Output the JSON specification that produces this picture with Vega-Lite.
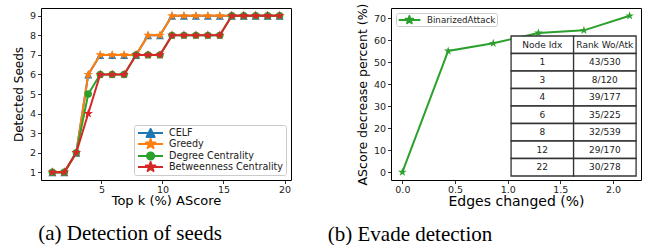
{
  "$schema": "https://vega.github.io/schema/vega-lite/v6.json",
  "background": "white",
  "padding": {"left": 11, "top": 2, "right": 0, "bottom": 0},
  "bounds": "flush",
  "spacing": 100,
  "config": {
    "font": "DejaVu Sans",
    "view": {"stroke": "black", "strokeWidth": 1},
    "axis": {"grid": false, "domain": false, "tickColor": "black", "tickSize": 3.5, "tickWidth": 0.8, "labelFont": "DejaVu Sans", "labelFontSize": 9.5, "labelColor": "#222", "labelPadding": 2, "titleFont": "DejaVu Sans", "titleFontWeight": "normal", "titleColor": "black", "labelFlush": false, "labelOverlap": false},
    "axisX": {"labelPadding": 0.5}
  },
  "resolve": {"scale": {"color": "independent"}, "legend": {"color": "independent"}},
  "hconcat": [
    {
      "width": 250,
      "height": 172,
      "title": {"text": "(a) Detection of seeds", "orient": "bottom", "font": "Liberation Serif", "fontSize": 21, "fontWeight": "normal", "color": "black", "offset": 15, "dx": -36, "anchor": "middle"},
      "data": {"values": [
        {"m": "CELF", "k": 0.98, "s": 1}, {"m": "CELF", "k": 1.96, "s": 1}, {"m": "CELF", "k": 2.94, "s": 2}, {"m": "CELF", "k": 3.92, "s": 6}, {"m": "CELF", "k": 4.9, "s": 7},
        {"m": "CELF", "k": 5.88, "s": 7}, {"m": "CELF", "k": 6.86, "s": 7}, {"m": "CELF", "k": 7.84, "s": 7}, {"m": "CELF", "k": 8.82, "s": 8}, {"m": "CELF", "k": 9.8, "s": 8},
        {"m": "CELF", "k": 10.78, "s": 9}, {"m": "CELF", "k": 11.76, "s": 9}, {"m": "CELF", "k": 12.74, "s": 9}, {"m": "CELF", "k": 13.72, "s": 9}, {"m": "CELF", "k": 14.7, "s": 9},
        {"m": "CELF", "k": 15.68, "s": 9}, {"m": "CELF", "k": 16.66, "s": 9}, {"m": "CELF", "k": 17.64, "s": 9}, {"m": "CELF", "k": 18.62, "s": 9}, {"m": "CELF", "k": 19.6, "s": 9},
        {"m": "Greedy", "k": 0.98, "s": 1}, {"m": "Greedy", "k": 1.96, "s": 1}, {"m": "Greedy", "k": 2.94, "s": 2}, {"m": "Greedy", "k": 3.92, "s": 6}, {"m": "Greedy", "k": 4.9, "s": 7},
        {"m": "Greedy", "k": 5.88, "s": 7}, {"m": "Greedy", "k": 6.86, "s": 7}, {"m": "Greedy", "k": 7.84, "s": 7}, {"m": "Greedy", "k": 8.82, "s": 8}, {"m": "Greedy", "k": 9.8, "s": 8},
        {"m": "Greedy", "k": 10.78, "s": 9}, {"m": "Greedy", "k": 11.76, "s": 9}, {"m": "Greedy", "k": 12.74, "s": 9}, {"m": "Greedy", "k": 13.72, "s": 9}, {"m": "Greedy", "k": 14.7, "s": 9},
        {"m": "Greedy", "k": 15.68, "s": 9}, {"m": "Greedy", "k": 16.66, "s": 9}, {"m": "Greedy", "k": 17.64, "s": 9}, {"m": "Greedy", "k": 18.62, "s": 9}, {"m": "Greedy", "k": 19.6, "s": 9},
        {"m": "Degree Centrality", "k": 0.98, "s": 1}, {"m": "Degree Centrality", "k": 1.96, "s": 1}, {"m": "Degree Centrality", "k": 2.94, "s": 2}, {"m": "Degree Centrality", "k": 3.92, "s": 5}, {"m": "Degree Centrality", "k": 4.9, "s": 6},
        {"m": "Degree Centrality", "k": 5.88, "s": 6}, {"m": "Degree Centrality", "k": 6.86, "s": 6}, {"m": "Degree Centrality", "k": 7.84, "s": 7}, {"m": "Degree Centrality", "k": 8.82, "s": 7}, {"m": "Degree Centrality", "k": 9.8, "s": 7},
        {"m": "Degree Centrality", "k": 10.78, "s": 8}, {"m": "Degree Centrality", "k": 11.76, "s": 8}, {"m": "Degree Centrality", "k": 12.74, "s": 8}, {"m": "Degree Centrality", "k": 13.72, "s": 8}, {"m": "Degree Centrality", "k": 14.7, "s": 8},
        {"m": "Degree Centrality", "k": 15.68, "s": 9}, {"m": "Degree Centrality", "k": 16.66, "s": 9}, {"m": "Degree Centrality", "k": 17.64, "s": 9}, {"m": "Degree Centrality", "k": 18.62, "s": 9}, {"m": "Degree Centrality", "k": 19.6, "s": 9},
        {"m": "Betweenness Centrality", "k": 0.98, "s": 1}, {"m": "Betweenness Centrality", "k": 1.96, "s": 1}, {"m": "Betweenness Centrality", "k": 2.94, "s": 2}, {"m": "Betweenness Centrality", "k": 3.92, "s": 4}, {"m": "Betweenness Centrality", "k": 4.9, "s": 6},
        {"m": "Betweenness Centrality", "k": 5.88, "s": 6}, {"m": "Betweenness Centrality", "k": 6.86, "s": 6}, {"m": "Betweenness Centrality", "k": 7.84, "s": 7}, {"m": "Betweenness Centrality", "k": 8.82, "s": 7}, {"m": "Betweenness Centrality", "k": 9.8, "s": 7},
        {"m": "Betweenness Centrality", "k": 10.78, "s": 8}, {"m": "Betweenness Centrality", "k": 11.76, "s": 8}, {"m": "Betweenness Centrality", "k": 12.74, "s": 8}, {"m": "Betweenness Centrality", "k": 13.72, "s": 8}, {"m": "Betweenness Centrality", "k": 14.7, "s": 8},
        {"m": "Betweenness Centrality", "k": 15.68, "s": 9}, {"m": "Betweenness Centrality", "k": 16.66, "s": 9}, {"m": "Betweenness Centrality", "k": 17.64, "s": 9}, {"m": "Betweenness Centrality", "k": 18.62, "s": 9}, {"m": "Betweenness Centrality", "k": 19.6, "s": 9}
      ]},
      "encoding": {
        "x": {"field": "k", "type": "quantitative", "scale": {"domain": [0.049, 20.531], "nice": false, "zero": false}, "axis": {"values": [5, 10, 15, 20], "title": "Top k (%) AScore", "titleFontSize": 13, "titlePadding": 1}},
        "y": {"field": "s", "type": "quantitative", "scale": {"domain": [0.6, 9.4], "nice": false, "zero": false}, "axis": {"values": [1, 2, 3, 4, 5, 6, 7, 8, 9], "title": "Detected Seeds", "titleFontSize": 12, "titlePadding": 4}},
        "color": {
          "field": "m", "type": "nominal",
          "scale": {"domain": ["CELF", "Greedy", "Degree Centrality", "Betweenness Centrality"], "range": ["#1f77b4", "#ff7f0e", "#2ca02c", "#d62728"]},
          "legend": {
            "title": null, "orient": "bottom-right", "offset": 5, "padding": 2,
            "strokeColor": "#cccccc", "fillColor": "rgba(255,255,255,0.8)", "cornerRadius": 2,
            "symbolSize": 100, "symbolStrokeWidth": 2, "rowPadding": -0.3, "labelOffset": 21,
            "labelFontSize": 9.6, "labelFont": "DejaVu Sans", "labelColor": "#222", "labelLimit": 300,
            "encode": {"symbols": {"update": {
              "shape": {"signal": "datum.value === 'CELF' ? 'M-0.8,0L4.2,0M1.72,-0.8L2.52,0.8L0.92,0.8Z' : datum.value === 'Degree Centrality' ? 'M-0.8,0L4.2,0M1,0A0.72,0.72 0 1,0 2.44,0A0.72,0.72 0 1,0 1,0Z' : 'M-0.8,0L4.2,0M1.72,-1L1.945,-0.309L2.671,-0.309L2.083,0.118L2.308,0.809L1.72,0.382L1.132,0.809L1.357,0.118L0.769,-0.309L1.496,-0.309Z'"},
              "fill": {"signal": "datum.value === 'CELF' ? '#1f77b4' : datum.value === 'Greedy' ? '#ff7f0e' : datum.value === 'Degree Centrality' ? '#2ca02c' : '#d62728'"},
              "stroke": {"signal": "datum.value === 'CELF' ? '#1f77b4' : datum.value === 'Greedy' ? '#ff7f0e' : datum.value === 'Degree Centrality' ? '#2ca02c' : '#d62728'"},
              "strokeWidth": {"value": 2},
              "strokeJoin": {"value": "round"},
              "opacity": {"value": 1}
            }}}
          }
        }
      },
      "layer": [
        {"transform": [{"filter": "datum.m === 'CELF'"}], "mark": {"type": "line", "strokeWidth": 2}},
        {"transform": [{"filter": "datum.m === 'CELF'"}], "mark": {"type": "point", "filled": true, "opacity": 1, "shape": "M0,-1L1,1L-1,1Z", "size": 64}},
        {"transform": [{"filter": "datum.m === 'Greedy'"}], "mark": {"type": "line", "strokeWidth": 2}},
        {"transform": [{"filter": "datum.m === 'Greedy'"}], "mark": {"type": "point", "filled": true, "opacity": 1, "shape": "M0,-1L0.2245,-0.309L0.9511,-0.309L0.3633,0.118L0.5878,0.809L0,0.382L-0.5878,0.809L-0.3633,0.118L-0.9511,-0.309L-0.2245,-0.309Z", "size": 100}},
        {"transform": [{"filter": "datum.m === 'Degree Centrality'"}], "mark": {"type": "line", "strokeWidth": 2}},
        {"transform": [{"filter": "datum.m === 'Degree Centrality'"}], "mark": {"type": "point", "filled": true, "opacity": 1, "shape": "circle", "size": 55}},
        {"transform": [{"filter": "datum.m === 'Betweenness Centrality'"}], "mark": {"type": "line", "strokeWidth": 2}},
        {"transform": [{"filter": "datum.m === 'Betweenness Centrality'"}], "mark": {"type": "point", "filled": true, "opacity": 1, "shape": "M0,-1L0.2245,-0.309L0.9511,-0.309L0.3633,0.118L0.5878,0.809L0,0.382L-0.5878,0.809L-0.3633,0.118L-0.9511,-0.309L-0.2245,-0.309Z", "size": 100}}
      ]
    },
    {
      "width": 250,
      "height": 172,
      "title": {"text": "(b) Evade detection", "orient": "bottom", "font": "Liberation Serif", "fontSize": 21, "fontWeight": "normal", "color": "black", "offset": 15, "dx": -106, "anchor": "middle"},
      "resolve": {"scale": {"x": "independent", "y": "independent"}},
      "layer": [
        {
          "data": {"values": [
            {"series": "BinarizedAttack", "e": 0, "d": 0},
            {"series": "BinarizedAttack", "e": 0.435, "d": 55.1},
            {"series": "BinarizedAttack", "e": 0.863, "d": 58.6},
            {"series": "BinarizedAttack", "e": 1.292, "d": 63.3},
            {"series": "BinarizedAttack", "e": 1.724, "d": 64.5},
            {"series": "BinarizedAttack", "e": 2.158, "d": 71.1}
          ]},
          "encoding": {
            "x": {"field": "e", "type": "quantitative", "scale": {"domain": [-0.108, 2.266], "nice": false, "zero": false}, "axis": {"values": [0, 0.5, 1, 1.5, 2], "format": ".1f", "title": "Edges changed (%)", "titleFontSize": 14, "titlePadding": 1}},
            "y": {"field": "d", "type": "quantitative", "scale": {"domain": [-3.555, 74.655], "nice": false, "zero": false}, "axis": {"values": [0, 10, 20, 30, 40, 50, 60, 70], "title": "AScore decrease percent (%)", "titleFontSize": 12.5, "titlePadding": 4}},
            "color": {
              "field": "series", "type": "nominal",
              "scale": {"domain": ["BinarizedAttack"], "range": ["#2ca02c"]},
              "legend": {
                "title": null, "orient": "top-left", "offset": 5, "padding": 1,
                "strokeColor": "#cccccc", "fillColor": "rgba(255,255,255,0.8)", "cornerRadius": 2,
                "symbolSize": 100, "symbolStrokeWidth": 2, "labelOffset": 18,
                "labelFontSize": 8.7, "labelFont": "DejaVu Sans", "labelColor": "#222", "labelLimit": 300,
                "encode": {"symbols": {"update": {
                  "shape": {"value": "M-0.86,0L3.48,0M1.28,-0.8L1.46,-0.247L2.041,-0.247L1.571,0.094L1.75,0.647L1.28,0.306L0.81,0.647L0.99,0.094L0.519,-0.247L1.1,-0.247Z"},
                  "fill": {"value": "#2ca02c"},
                  "stroke": {"value": "#2ca02c"},
                  "strokeWidth": {"value": 2},
                  "strokeJoin": {"value": "round"},
                  "opacity": {"value": 1}
                }}}
              }
            }
          },
          "layer": [
            {"mark": {"type": "line", "strokeWidth": 2}},
            {"mark": {"type": "point", "filled": true, "opacity": 1, "shape": "M0,-1L0.2245,-0.309L0.9511,-0.309L0.3633,0.118L0.5878,0.809L0,0.382L-0.5878,0.809L-0.3633,0.118L-0.9511,-0.309L-0.2245,-0.309Z", "size": 81}}
          ]
        },
        {
          "data": {"values": [
            {"r": 0, "c": "idx", "t": "Node Idx"}, {"r": 0, "c": "rank", "t": "Rank Wo/Atk"},
            {"r": 1, "c": "idx", "t": "1"}, {"r": 1, "c": "rank", "t": "43/530"},
            {"r": 2, "c": "idx", "t": "3"}, {"r": 2, "c": "rank", "t": "8/120"},
            {"r": 3, "c": "idx", "t": "4"}, {"r": 3, "c": "rank", "t": "39/177"},
            {"r": 4, "c": "idx", "t": "6"}, {"r": 4, "c": "rank", "t": "35/225"},
            {"r": 5, "c": "idx", "t": "8"}, {"r": 5, "c": "rank", "t": "32/539"},
            {"r": 6, "c": "idx", "t": "12"}, {"r": 6, "c": "rank", "t": "29/170"},
            {"r": 7, "c": "idx", "t": "22"}, {"r": 7, "c": "rank", "t": "30/278"}
          ]},
          "encoding": {
            "x": {"field": "c", "type": "nominal", "scale": {"type": "band", "domain": ["idx", "rank"], "paddingInner": 0, "paddingOuter": 1.1739, "align": 0.9607}, "axis": null},
            "y": {"field": "r", "type": "ordinal", "scale": {"type": "band", "domain": [0, 1, 2, 3, 4, 5, 6, 7], "paddingInner": 0, "paddingOuter": 0.914, "align": 0.875}, "axis": null}
          },
          "layer": [
            {"mark": {"type": "rect", "fill": "white", "stroke": "#333333", "strokeWidth": 1.3}},
            {"mark": {"type": "text", "font": "DejaVu Sans", "fontSize": 9, "color": "#222", "align": "center", "baseline": "middle"}, "encoding": {"text": {"field": "t"}}}
          ]
        }
      ]
    }
  ]
}
